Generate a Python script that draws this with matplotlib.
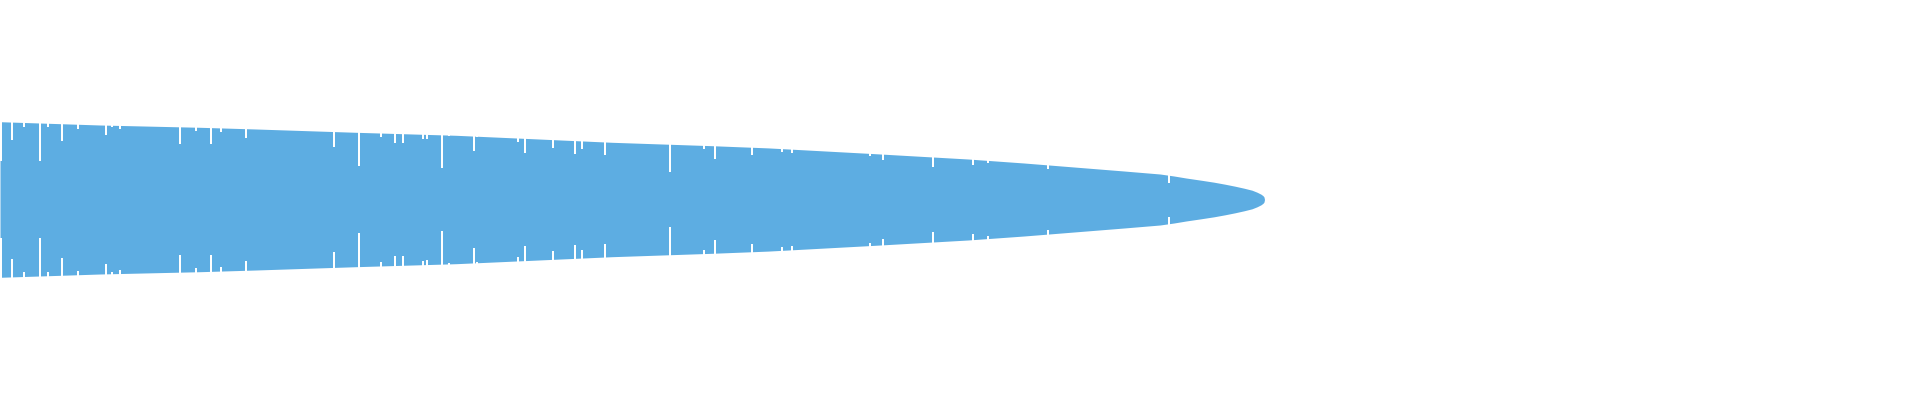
import matplotlib.pyplot as plt

BLUE = "#5DADE2"

# outline of the band: position along x and half-height (symmetric about 0)
env_x = [0, 100, 200, 256, 356, 456, 512, 612, 712, 768, 868, 968, 1024,
         1074, 1124, 1160, 1174, 1186, 1201, 1214, 1225, 1235, 1244, 1252,
         1257, 1261, 1263, 1264, 1264.5]
env_h = [77.8, 74.5, 72.2, 70.5, 67.2, 64.2, 61.7, 57.2, 53.8, 51.6, 46.2,
         40.5, 36.5, 32.5, 28.5, 25.5, 23.5, 21.5, 19.3, 17.3, 15.3, 13.3,
         11.3, 9.3, 7.3, 5.3, 3.8, 2.5, 0]

# narrow notches: where they sit and the half-height they cut down to
dip_x = [0.5, 12, 24, 40, 48, 62, 78, 106, 112, 120, 180, 196, 211, 221, 246,
         334, 359, 381, 395, 403, 423, 427, 442, 449, 474, 477, 518, 525, 553,
         575, 582, 605, 670, 704, 715, 752, 782, 792, 870, 883, 933, 973, 988,
         1048, 1169]
dip_h = [38.8, 59.5, 72.8, 38.8, 72.8, 58.5, 71, 64.5, 72.8, 70.5, 55.5, 68.8,
         55.5, 67.5, 61.2, 52.8, 33.5, 62.8, 56.8, 56.8, 61, 60.2, 31.8, 63.5,
         48.8, 62.2, 57.5, 46.8, 51.5, 45.5, 50.5, 44.5, 27.5, 50.5, 40.5,
         44.5, 47.5, 46.2, 43.5, 39.5, 32.8, 34.5, 36.8, 30.5, 17]

fig = plt.figure(figsize=(19.2, 4), dpi=100)
ax = fig.add_axes([0, 0, 1, 1])

# the band itself
ax.fill_between(env_x, [-h for h in env_h], env_h, color=BLUE, lw=0)

# cut the notches out, top and bottom
ax.bar(dip_x, 120, bottom=dip_h, width=2, color="white", lw=0)
ax.bar(dip_x, 120, bottom=[-h - 120 for h in dip_h], width=2,
       color="white", lw=0)

ax.set_xlim(0, 1920)
ax.set_ylim(-200.5, 199.5)
ax.set_axis_off()

fig.savefig("out.png", dpi=100)
